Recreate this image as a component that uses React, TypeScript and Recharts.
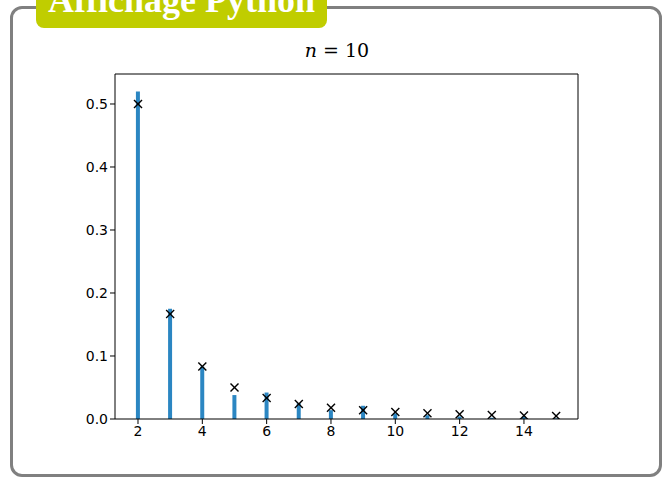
import React from 'react';
import { ComposedChart, Bar, Scatter, XAxis, YAxis, ReferenceLine } from 'recharts';

// observed frequencies (bars) and theoretical values (x markers)
const ranks = [2, 3, 4, 5, 6, 7, 8, 9, 10, 11, 12, 13, 14, 15];
const observed = [0.52, 0.175, 0.083, 0.038, 0.042, 0.025, 0.014, 0.021, 0.009, 0.006, 0.004, 0.002, 0.004, 0.001];
const theory = [0.5, 0.1667, 0.0833, 0.05, 0.0333, 0.0238, 0.0179, 0.0139, 0.0111, 0.0091, 0.0076, 0.0064, 0.0055, 0.0048];
const xTicks = [2, 4, 6, 8, 10, 12, 14];
const yTicks = [0, 0.1, 0.2, 0.3, 0.4, 0.5];
const xDomain = [1.285, 15.68];
const yDomain = [0, 0.5476];

const data = ranks.map((k, i) => ({ k, obs: observed[i], th: theory[i] }));

const Cross = (props: any) => {
  const { cx, cy } = props;
  const s = 4;
  return (
    <g stroke="#000" strokeWidth={1.4}>
      <line x1={cx - s} y1={cy - s} x2={cx + s} y2={cy + s} />
      <line x1={cx - s} y1={cy + s} x2={cx + s} y2={cy - s} />
    </g>
  );
};

const tickFont = { fontFamily: 'DejaVu Sans', fontSize: 14, fill: '#000' };

export default function App() {
  return (
    <div style={{ position: 'fixed', left: 0, top: 0, width: 666, height: 481, background: '#fff', overflow: 'hidden' }}>
      <div style={{
        position: 'absolute', left: 10, top: 6, width: 646, height: 465,
        border: '3px solid #808080', borderRadius: 12,
      }} />
      <div style={{
        position: 'absolute', left: 36, top: -12, width: 291, height: 40,
        background: '#c0cd00', borderRadius: 8,
      }} />
      <div style={{
        position: 'absolute', left: 36, width: 291, top: -18, textAlign: 'center', whiteSpace: 'nowrap',
        fontFamily: 'Liberation Serif', fontWeight: 'bold', fontSize: 36, color: '#fff', lineHeight: '36px',
      }}>Affichage Python</div>
      <svg style={{ position: 'absolute', left: 0, top: 0 }} width={666} height={70}>
        <text x={337} y={57} textAnchor="middle" fontFamily="DejaVu Serif" fontSize={19} fill="#000">
          <tspan fontStyle="italic">n</tspan>
          <tspan> = 10</tspan>
        </text>
      </svg>
      <div style={{ position: 'absolute', left: 0, top: 0, fontFamily: 'DejaVu Sans', fontSize: 14 }}>
        <ComposedChart width={666} height={481} data={data}
          margin={{ top: 74, right: 88, bottom: 32, left: 75 }}>
          <XAxis dataKey="k" type="number" domain={xDomain} ticks={xTicks}
            allowDataOverflow height={30} tick={tickFont} tickSize={5} fontSize={14}
            axisLine={{ stroke: '#000' }} tickLine={{ stroke: '#000' }} />
          <YAxis type="number" domain={yDomain} ticks={yTicks} allowDataOverflow width={40}
            tick={tickFont} tickSize={5} fontSize={14} tickFormatter={(v: number) => v.toFixed(1)}
            axisLine={{ stroke: '#000' }} tickLine={{ stroke: '#000' }} />
          <ReferenceLine y={yDomain[1]} stroke="#000" ifOverflow="visible" />
          <ReferenceLine x={xDomain[1]} stroke="#000" ifOverflow="visible" />
          <Bar dataKey="obs" fill="#2b86c2" barSize={4} isAnimationActive={false} />
          <Scatter dataKey="th" shape={<Cross />} isAnimationActive={false} />
        </ComposedChart>
      </div>
    </div>
  );
}
